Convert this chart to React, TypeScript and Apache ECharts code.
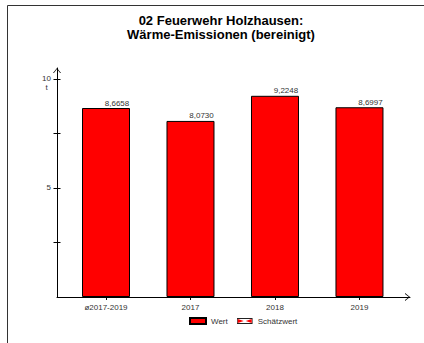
import React, { useEffect, useRef } from "react";
import * as echarts from "echarts";

const categories = ["ø2017-2019", "2017", "2018", "2019"];
const values = [8.6658, 8.073, 9.2248, 8.6997];
const estimateValues: number[] = [];
const yLabelValues = [5, 10];
const yTickValues = [2.5, 5, 7.5, 10];
const titleText = "02 Feuerwehr Holzhausen:\nWärme-Emissionen (bereinigt)";
const unit = "t";

const FONT = "'Liberation Sans', Arial, sans-serif";
const chevron = "path://M0,10 L8,0 L16,10 L14.2,10 L8,2.2 L1.8,10 Z";
const estIcon =
  "image://data:image/svg+xml;charset=utf-8," +
  encodeURIComponent(
    "<svg xmlns='http://www.w3.org/2000/svg' width='16' height='6'><rect x='0.5' y='0.5' width='15' height='5' fill='white' stroke='#222'/><path d='M1 1 L7 3 L1 5 Z M15 1 L9 3 L15 5 Z' fill='red'/></svg>"
  );

export default function App() {
  const ref = useRef<HTMLDivElement>(null);
  useEffect(() => {
    document.body.style.margin = "0";
    const chart = echarts.init(ref.current!, undefined, { renderer: "svg" });
    const xIdx = categories.map((_, i) => i);
    chart.setOption({
      animation: false,
      backgroundColor: "#fff",
      textStyle: { fontFamily: FONT },
      graphic: [
        {
          type: "rect",
          left: 5,
          top: 3,
          shape: { width: 430, height: 339 },
          style: { fill: "none", stroke: "#333", lineWidth: 1 },
          silent: true,
        },
        {
          type: "text",
          x: 221,
          y: 14,
          style: {
            text: titleText,
            font: `bold 13px ${FONT}`,
            fill: "#000",
            align: "center",
            verticalAlign: "top",
            lineHeight: 13.5,
          },
        },
      ],
      legend: {
        left: 184,
        top: 312,
        itemWidth: 16,
        itemHeight: 6,
        itemGap: 9,
        textStyle: { fontSize: 8, color: "#333", fontFamily: FONT },
        data: [
          { name: "Wert", icon: "rect" },
          { name: "Schätzwert", icon: estIcon },
        ],
      },
      grid: { left: 57, right: 14, top: 68, bottom: 46 },
      xAxis: {
        type: "value",
        min: -0.58,
        max: 3.598,
        splitLine: { show: false },
        axisLine: {
          show: true,
          onZero: true,
          lineStyle: { color: "#000", width: 1 },
          symbol: ["none", chevron],
          symbolSize: [8, 5],
          symbolOffset: [0, -2.5],
        },
        axisTick: {
          show: true,
          length: 3,
          customValues: xIdx,
          lineStyle: { color: "#000" },
        },
        axisLabel: {
          customValues: xIdx,
          fontSize: 8,
          color: "#333",
          margin: 6,
          fontFamily: FONT,
          formatter: (v: number) => categories[Math.round(v)] ?? "",
        },
      },
      yAxis: [
        {
          type: "value",
          min: 0,
          max: 10.5,
          splitLine: { show: false },
          axisLine: {
            show: true,
            onZero: false,
            lineStyle: { color: "#000", width: 1 },
            symbol: ["none", chevron],
            symbolSize: [8, 5],
            symbolOffset: [0, -2.5],
          },
          axisTick: {
            show: true,
            length: 3.5,
            customValues: yTickValues,
            lineStyle: { color: "#000" },
          },
          axisLabel: {
            customValues: yLabelValues,
            fontSize: 8,
            color: "#333",
            margin: 6,
            fontFamily: FONT,
            lineHeight: 9,
            formatter: (v: number) =>
              v === 10 ? `{sp| }\n{n|10}\n{u|${unit}}` : `{n|${v}}`,
            rich: {
              sp: { fontSize: 8, lineHeight: 9 },
              n: { fontSize: 8, lineHeight: 9, color: "#333", align: "right" },
              u: { fontSize: 8, lineHeight: 9, color: "#333", align: "center" },
            },
          },
        },
        {
          type: "value",
          min: 0,
          max: 10.5,
          position: "left",
          splitLine: { show: false },
          axisLine: { show: false, onZero: false },
          axisTick: {
            show: true,
            inside: true,
            length: 3.5,
            customValues: yTickValues,
            lineStyle: { color: "#000" },
          },
          axisLabel: { show: false },
        },
      ],
      series: [
        {
          name: "Wert",
          type: "bar",
          stack: "v",
          barWidth: 48,
          data: values.map((v, i) => [i, v]),
          itemStyle: { color: "#ff0000", borderColor: "#000", borderWidth: 1 },
          label: {
            show: true,
            position: "top",
            distance: 1,
            offset: [11, 0],
            fontSize: 8,
            color: "#333",
            fontFamily: FONT,
            formatter: (p: any) => p.value[1].toFixed(4).replace(".", ","),
          },
        },
        {
          name: "Schätzwert",
          type: "bar",
          stack: "v",
          barWidth: 48,
          data: estimateValues,
          itemStyle: { color: "#fff", borderColor: "#000", borderWidth: 1 },
        },
      ],
    });
    return () => chart.dispose();
  }, []);
  return <div ref={ref} style={{ width: 424, height: 343 }} />;
}
